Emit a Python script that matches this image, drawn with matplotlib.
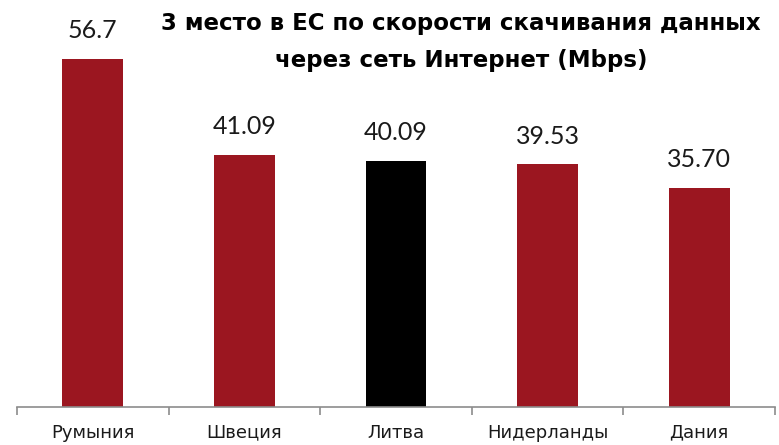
import numpy as np
import matplotlib
matplotlib.use("Agg")
from matplotlib import pyplot as plt

# data
countries = ["Румыния", "Швеция", "Литва", "Нидерланды", "Дания"]
speeds = [56.7, 41.09, 40.09, 39.53, 35.70]
value_labels = ["56.7", "41.09", "40.09", "39.53", "35.70"]
title_text = "3 место в ЕС по скорости скачивания данных\nчерез сеть Интернет (Mbps)"

red = "#9b1620"
colors = ["black" if c == "Литва" else red for c in countries]

plt.rcParams['font.family'] = ['Lato', 'DejaVu Sans']

fig = plt.figure(figsize=(7.79, 4.45), dpi=100)
ax = fig.add_axes([17 / 779, 38 / 445, 758 / 779, 407 / 445])

x = np.arange(len(countries))
ax.bar(x, speeds, width=0.4, color=colors)

# value labels above bars
for xi, v, lab in zip(x, speeds, value_labels):
    ax.annotate(lab, (xi, v), xytext=(0, 12), textcoords="offset points",
                ha="center", va="bottom", fontsize=18, fontweight="normal",
                color="#1a1a1a")

ax.set_xlim(-0.5, len(countries) - 0.5)
ax.set_ylim(0, 66.3)

# category separators as ticks on the baseline
ax.set_xticks(np.arange(len(countries) + 1) - 0.5, minor=False)
ax.set_xticklabels([])
ax.tick_params(axis="x", length=6, width=1.2, color="#8c8c8c", direction="out")
ax.set_xticks(x, minor=True)
ax.set_xticklabels(countries, minor=True, fontsize=13, color="#1a1a1a",
                   family="DejaVu Sans")
ax.tick_params(axis="x", which="minor", length=0, pad=12)

ax.set_yticks([])
for s in ["top", "right", "left"]:
    ax.spines[s].set_visible(False)
ax.spines["bottom"].set_color("#8c8c8c")
ax.spines["bottom"].set_linewidth(1.2)

fig.text(0.592, 0.972, title_text, ha="center", va="top", fontsize=16.5,
         fontweight="bold", linespacing=1.75, color="black", family="DejaVu Sans")

fig.savefig("out.png", dpi=100)
